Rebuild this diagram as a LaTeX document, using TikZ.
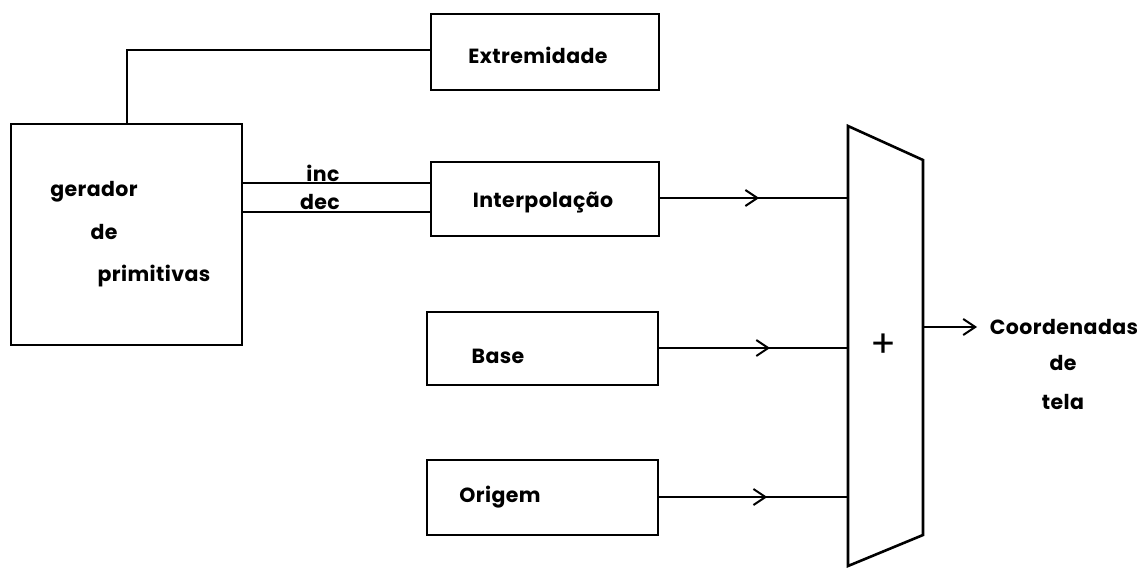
\documentclass[tikz,border=0pt]{standalone}
\usepackage{fontspec}
\setmainfont{Poppins}[LetterSpace=2]
\usetikzlibrary{arrows.meta,decorations.markings}
\tikzset{
  lbl/.style={font=\fontsize{20.5}{24}\selectfont\bfseries, inner sep=0pt},
  boxline/.style={line width=2.6pt},
  wire/.style={line width=1.9pt},
  tipbarb/.tip={Straight Barb[length=12pt,width=16pt,line width=2pt]},
  barb/.style={line width=1.9pt, decoration={markings,
      mark=at position #1 with {\arrow{tipbarb}}},
      postaction={decorate}},
}
\begin{document}
\begin{tikzpicture}[x=1pt,y=-1pt]
\useasboundingbox (0,0) rectangle (1147,568);

% blocks
\draw[boxline] (11,124) rectangle (242,345);
\coordinate (gen-n) at (127,124);
\coordinate (gen-e1) at (242,183);
\coordinate (gen-e2) at (242,212);
\draw[boxline] (431,14) rectangle (659,90);
\coordinate (ext-w) at (431,50);
\draw[boxline] (431,162) rectangle (659,236);
\coordinate (int-w1) at (431,183);
\coordinate (int-w2) at (431,212);
\coordinate (int-e) at (659,198);
\draw[boxline] (427,312) rectangle (658,385);
\coordinate (base-e) at (658,348);
\draw[boxline] (427,460) rectangle (658,535);
\coordinate (orig-e) at (658,497);

% adder
\draw[boxline, line join=miter] (848,126) -- (923,160) -- (923,535) -- (848,566) -- cycle;
\coordinate (add-w1) at (848,198);
\coordinate (add-w2) at (848,348);
\coordinate (add-w3) at (848,497);
\coordinate (add-e) at (923,327);
\coordinate (out) at (977,327);

% labels
\node[lbl] (t1) at (94,192) {gerador};
\node[lbl] (t2) at (104,232) {de};
\node[lbl] (t3) at (154,276) {primitivas};
\node[lbl] (tinc) at (323,173) {inc};
\node[lbl] (tdec) at (320,202) {dec};
\node[lbl] (text) at (538,55) {Extremidade};
\node[lbl] (tint) at (543,203) {Interpolação};
\node[lbl] (tbase) at (498,356) {Base};
\node[lbl] (torig) at (500,497) {Origem};
\node[inner sep=0pt, font=\fontsize{38}{38}\selectfont] (plus) at (883,346) {+};
\node[lbl] (c1) at (1064,327) {Coordenadas};
\node[lbl] (c2) at (1063,363) {de};
\node[lbl] (c3) at (1063,402) {tela};

% connections
\draw[wire] (gen-n) |- (ext-w);
\draw[wire] (gen-e1) -- (int-w1);
\draw[wire] (gen-e2) -- (int-w2);
\draw[barb=0.53] (int-e) -- (add-w1);
\draw[barb=0.59] (base-e) -- (add-w2);
\draw[barb=0.575] (orig-e) -- (add-w3);
\draw[wire, -tipbarb] (add-e) -- (out);
\end{tikzpicture}
\end{document}
